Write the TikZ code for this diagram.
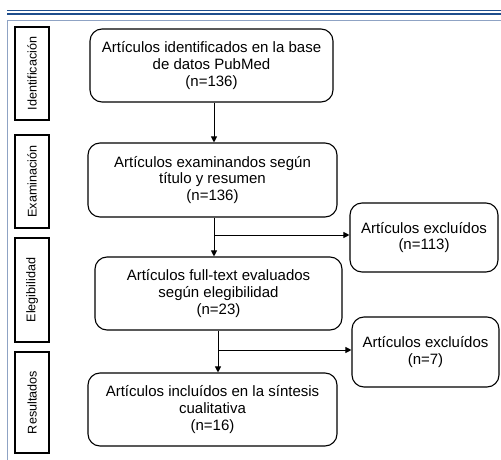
\documentclass[tikz,border=0pt]{standalone}
\usepackage{fontspec}
\setmainfont{Liberation Sans}
\usetikzlibrary{arrows.meta}
\definecolor{navy}{HTML}{1F4E8C}
\definecolor{framec}{HTML}{8FA3C4}
\begin{document}
\begin{tikzpicture}[x=1pt,y=-1pt,
  mainbox/.style={draw, rounded corners=12pt, line width=1.1pt, align=center, font=\fontsize{15}{16.7}\selectfont, inner sep=0pt},
  phase/.style={draw, line width=1.1pt, inner sep=0pt},
  phasetext/.style={rotate=90, font=\fontsize{12.6}{14}\selectfont},
  arr/.style={-{Triangle[length=6pt,width=6pt]}, line width=1pt},
  ln/.style={line width=1pt}]
\useasboundingbox (0,0) rectangle (501,460);
\clip (0,0) rectangle (501,460);
% header lines
\draw[navy, line width=1pt] (7,10.5) -- (501,10.5);
\draw[navy, line width=2.4pt] (7,14) -- (501,14);
% frame
\draw[framec, line width=1pt] (7,470) -- (7,20.5) -- (510,20.5);
% phase boxes
\draw[phase] (15,27) rectangle (49,120);
\node[phasetext] (p1) at (32,73.5) {Identificación};
\draw[phase] (15,135) rectangle (49,228);
\node[phasetext] (p2) at (32,181.5) {Examinación};
\draw[phase] (15,238) rectangle (49,342);
\node[phasetext] (p3) at (32,290) {Elegibilidad};
\draw[phase] (15,352) rectangle (49,453);
\node[phasetext] (p4) at (32,402.5) {Resultados};
% main boxes
\node[mainbox, minimum width=243pt, minimum height=73pt] (b1) at (211.5,65.5) {Artículos identificados en la base\\de datos PubMed\\(n=136)};
\node[mainbox, minimum width=249pt, minimum height=74pt] (b2) at (212.5,180) {Artículos examinandos según\\título y resumen\\(n=136)};
\node[mainbox, minimum width=247pt, minimum height=73pt] (b3) at (218.5,293.5) {Artículos full-text evaluados\\según elegibilidad\\(n=23)};
\node[mainbox, minimum width=249pt, minimum height=73pt] (b4) at (212.5,409.5) {Artículos incluídos en la síntesis\\cualitativa\\(n=16)};
\node[mainbox, minimum width=148pt, minimum height=69pt] (e1) at (424,237.5) {Artículos excluídos\\(n=113)};
\node[mainbox, minimum width=147pt, minimum height=70pt] (e2) at (425.5,352) {Artículos excluídos\\(n=7)};
% connectors
\draw[arr] (b1.south -| 214,0) -- (b2.north -| 214,0);
\draw[arr] (b2.south -| 214,0) -- (b3.north -| 214,0);
\coordinate (j1) at (214,235);
\draw[arr] (j1) -- (j1 -| e1.west);
\draw[arr] (b3.south -| 218,0) -- (b4.north -| 218,0);
\coordinate (j2) at (218,350);
\draw[arr] (j2) -- (j2 -| e2.west);
\end{tikzpicture}
\end{document}
